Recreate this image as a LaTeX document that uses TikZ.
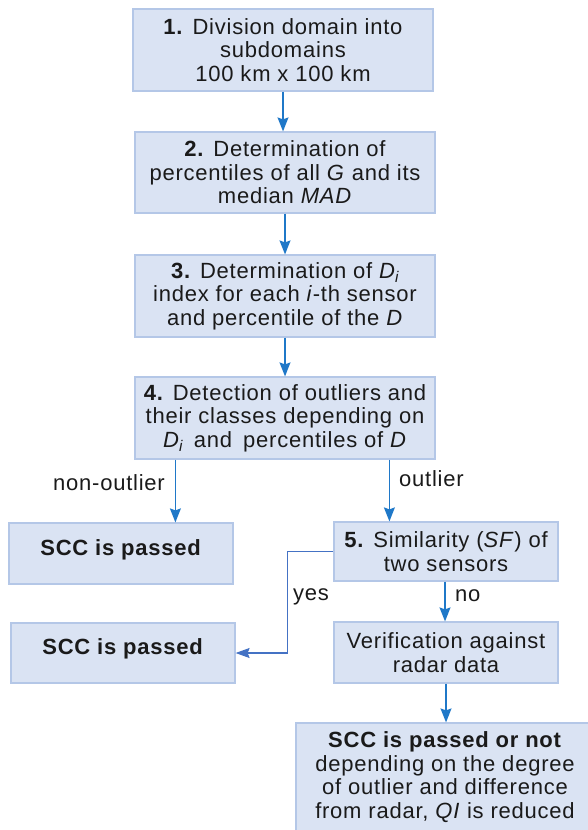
\documentclass[tikz,border=0pt]{standalone}
\usepackage{fontspec}
\setmainfont{Liberation Sans}[LetterSpace=3.5]
\usetikzlibrary{arrows.meta,calc}
\definecolor{boxfill}{HTML}{DAE3F3}
\definecolor{boxline}{HTML}{B4C7E7}
\definecolor{arrowblue}{HTML}{1F78C8}
\definecolor{yesblue}{HTML}{4472C4}
\definecolor{txt}{HTML}{1A1A1A}
\tikzset{
  stepbox/.style={draw=boxline, line width=1.2bp, fill=boxfill, rectangle, align=center,
    inner sep=0pt, text=txt, font=\fontsize{22bp}{23.5bp}\selectfont},
  flow/.style={draw=arrowblue, line width=1.4bp, -{Stealth[length=14bp,width=11bp,inset=2bp]}},
  yesflow/.style={draw=yesblue, line width=1.4bp, -{Stealth[length=14bp,width=10bp,inset=2bp]}},
  lbl/.style={text=txt, inner sep=0pt, font=\fontsize{22bp}{23.5bp}\selectfont}
}
\newcommand{\lowdepth}{\rule[-12bp]{0pt}{12bp}}
\begin{document}
\begin{tikzpicture}[x=1bp,y=-1bp]
\useasboundingbox (0,0) rectangle (588,830);
\clip (0,0) rectangle (588,830);
\node[stepbox, minimum width=300bp, minimum height=82bp] (b1) at (283,50)
  {\textbf{1.} Division domain into\\subdomains\\100 km x 100 km};
\node[stepbox, minimum width=300bp, minimum height=81bp] (b2) at (285,172.5)
  {\textbf{2.} Determination of\\percentiles of all \textit{G} and its\\median \textit{MAD}};
\node[stepbox, minimum width=300bp, minimum height=82bp] (b3) at (285,296)
  {\textbf{3.} Determination of \textit{D\textsubscript{i}}\\index for each \textit{i}-th sensor\\and percentile of the \textit{D}};
\node[stepbox, minimum width=300bp, minimum height=82bp] (b4) at (285,418)
  {\textbf{4.} Detection of outliers and\\their classes depending on\\\textit{D\textsubscript{i}}\enspace and\enspace percentiles of \textit{D}};
\node[stepbox, minimum width=224bp, minimum height=61bp] (p1) at (121,553.5)
  {\textbf{SCC is passed}\lowdepth};
\node[stepbox, minimum width=224bp, minimum height=60bp] (p2) at (123,653)
  {\textbf{SCC is passed}\lowdepth};
\node[stepbox, minimum width=224bp, minimum height=59bp] (b5) at (446,551.5)
  {\textbf{5.} Similarity (\textit{SF}) of\\two sensors};
\node[stepbox, minimum width=224bp, minimum height=61bp] (v) at (446,652.5)
  {Verification against\\radar data};
\node[stepbox, minimum width=298bp, minimum height=108bp] (f) at (445,777)
  {\textbf{SCC is passed or not}\\depending on the degree\\of outlier and difference\\from radar, \textit{QI} is reduced};

\coordinate (c1) at ($(b4.south west)+(41,0)$);
\coordinate (c2) at ($(b4.south west)+(255,0)$);
\draw[flow] (b1.south) -- (b1.south |- b2.north);
\draw[flow] (b2.south) -- (b2.south |- b3.north);
\draw[flow] (b3.south) -- (b3.south |- b4.north);
\draw[flow] (c1) -- (c1 |- p1.north);
\draw[flow] (c2) -- (c2 |- b5.north);
\draw[flow] ([xshift=-1bp]b5.south) -- ([xshift=-1bp]b5.south |- v.north);
\draw[flow] (v.south) -- (v.south |- f.north);
\draw[yesflow] (b5.west) -- ++(-46,0) |- (p2.east);

\node[lbl, anchor=east] (lno) at (165,483) {non-outlier};
\node[lbl, anchor=west] (lo) at (399,479) {outlier};
\node[lbl, anchor=west] (ly) at (293,597) {yes};
\node[lbl, anchor=west] (ln) at (455,596) {no};
\end{tikzpicture}
\end{document}
